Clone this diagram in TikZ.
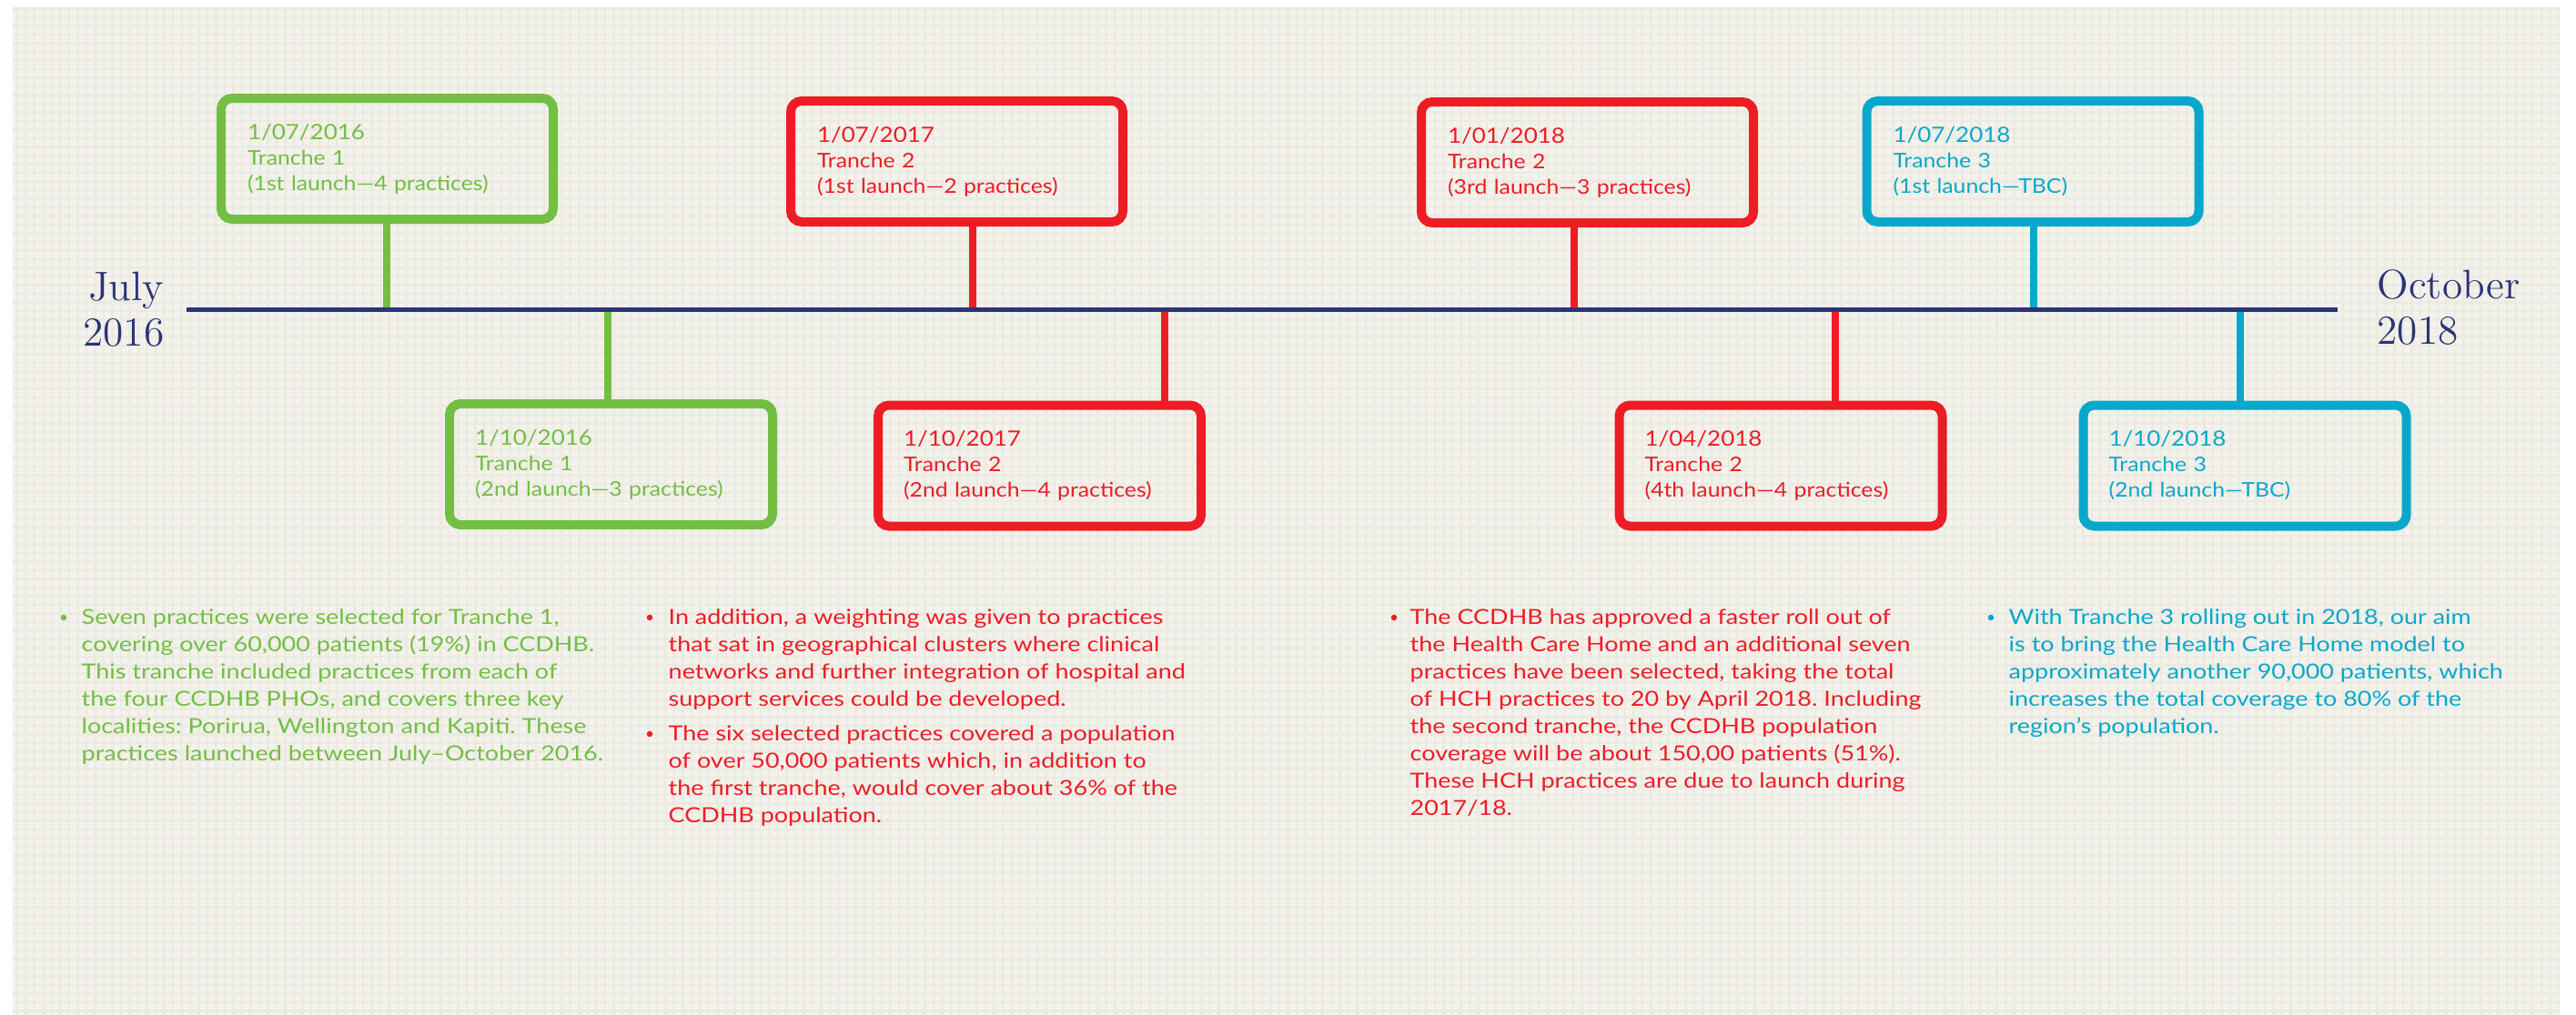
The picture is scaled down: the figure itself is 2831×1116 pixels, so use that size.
\documentclass[tikz,border=0pt]{standalone}
\usepackage{fontspec}
\setsansfont{Lato}[FakeStretch=1.12]
\newfontfamily\notesfont{Lato}[FakeStretch=1.18]
\frenchspacing
\definecolor{trancheone}{HTML}{72BF44}
\definecolor{tranchetwo}{HTML}{EE1C25}
\definecolor{tranchethree}{HTML}{08A8CC}
\definecolor{axisnavy}{HTML}{2A3477}
\definecolor{paper}{HTML}{F3F2EC}
\definecolor{paperline}{HTML}{ECEAE1}
\newcommand\datefont{\fontsize{6.6pt}{7.97pt}\selectfont}
\tikzset{
  launchbox/.style={draw=#1, text=#1, line width=1mm, rounded corners=1.2mm, align=left,
    font=\sffamily\fontsize{6.3pt}{7.97pt}\selectfont},
  topbox/.style={launchbox=#1, minimum width=36.5mm, minimum height=13.3mm, text width=30.7mm, inner xsep=2.9mm},
  lowbox/.style={launchbox=#1, minimum width=35.5mm, minimum height=13.3mm, text width=29.9mm, inner xsep=2.8mm},
  stemline/.style={draw=#1, line width=0.85mm},
  timeline/.style={draw=axisnavy, line width=0.5mm},
  endlabel/.style={text=axisnavy, inner sep=0pt, font=\fontsize{12.9pt}{14.2pt}\selectfont},
  notes/.style={text=#1, align=left, inner sep=0pt, anchor=north west,
    font=\notesfont\fontsize{6.5pt}{8.54pt}\selectfont},
  bulletdot/.style={circle, fill=#1, inner sep=0pt, minimum size=0.65mm}
}
\begin{document}
\begin{tikzpicture}[x=0.1mm,y=-0.1mm]
\useasboundingbox (0,0) rectangle (2831,1116);
\fill[white] (0,0) rectangle (2831,1116);
\fill[paper] (14,8) rectangle (2812,1116);
\draw[paperline, line width=0.27mm, step=0.95mm] (14,1116) grid (2812,8);

% end labels
\node[endlabel, anchor=north east, align=right] (start) at (181,298) {July\\2016};
\node[endlabel, anchor=north west, align=left] (finish) at (2612,296) {October\\2018};

% launch dates on the axis
\coordinate (t1) at (425,340);
\coordinate (t2) at (668,340);
\coordinate (t3) at (1069,340);
\coordinate (t4) at (1280,340);
\coordinate (t5) at (1730,340);
\coordinate (t6) at (2017,340);
\coordinate (t7) at (2235,340);
\coordinate (t8) at (2462,340);

% boxes above the axis
\node[topbox=trancheone] (g1) at (425.5,174.5) {{\datefont 1/07/2016}\\Tranche 1\\(1st launch—4 practices)};
\node[topbox=tranchetwo] (r1) at (1051.5,177.5) {{\datefont 1/07/2017}\\Tranche 2\\(1st launch—2 practices)};
\node[topbox=tranchetwo] (r3) at (1744.5,178.5) {{\datefont 1/01/2018}\\Tranche 2\\(3rd launch—3 practices)};
\node[topbox=tranchethree] (c1) at (2234,177.5) {{\datefont 1/07/2018}\\Tranche 3\\(1st launch—TBC)};

% boxes below the axis
\node[lowbox=trancheone] (g2) at (671.5,510.5) {{\datefont 1/10/2016}\\Tranche 1\\(2nd launch—3 practices)};
\node[lowbox=tranchetwo] (r2) at (1142.5,512) {{\datefont 1/10/2017}\\Tranche 2\\(2nd launch—4 practices)};
\node[lowbox=tranchetwo] (r4) at (1957,512) {{\datefont 1/04/2018}\\Tranche 2\\(4th launch—4 practices)};
\node[lowbox=tranchethree] (c2) at (2467,512) {{\datefont 1/10/2018}\\Tranche 3\\(2nd launch—TBC)};

% stems
\draw[stemline=trancheone] (g1.south -| t1) -- (t1);
\draw[stemline=trancheone] (g2.north -| t2) -- (t2);
\draw[stemline=tranchetwo] (r1.south -| t3) -- (t3);
\draw[stemline=tranchetwo] (r2.north -| t4) -- (t4);
\draw[stemline=tranchetwo] (r3.south -| t5) -- (t5);
\draw[stemline=tranchetwo] (r4.north -| t6) -- (t6);
\draw[stemline=tranchethree] (c1.south -| t7) -- (t7);
\draw[stemline=tranchethree] (c2.north -| t8) -- (t8);

% axis
\coordinate (axisstart) at (205,340);
\coordinate (axisend) at (2569,340);
\draw[timeline] (axisstart) -- (axisend);

% notes
\node[bulletdot=trancheone] (d1) at (70,679) {};
\node[notes=trancheone] (n1) at (89,669) {Seven practices were selected for Tranche 1,\\
covering over 60,000 patients (19\%) in CCDHB.\\
This tranche included practices from each of\\
the four CCDHB PHOs, and covers three key\\
localities: Porirua, Wellington and Kapiti. These\\
practices launched between July–October 2016.};

\node[bulletdot=tranchetwo] (d2) at (714,679) {};
\node[notes=tranchetwo] (n2) at (734,669) {In addition, a weighting was given to practices\\
that sat in geographical clusters where clinical\\
networks and further integration of hospital and\\
support services could be developed.};

\node[bulletdot=tranchetwo] (d3) at (714,807) {};
\node[notes=tranchetwo] (n3) at (734,797) {The six selected practices covered a population\\
of over 50,000 patients which, in addition to\\
the first tranche, would cover about 36\% of the\\
CCDHB population.};

\node[bulletdot=tranchetwo] (d4) at (1532,679) {};
\node[notes=tranchetwo] (n4) at (1549,669) {The CCDHB has approved a faster roll out of\\
the Health Care Home and an additional seven\\
practices have been selected, taking the total\\
of HCH practices to 20 by April 2018. Including\\
the second tranche, the CCDHB population\\
coverage will be about 150,00 patients (51\%).\\
These HCH practices are due to launch during\\
2017/18.};

\node[bulletdot=tranchethree] (d5) at (2188,679) {};
\node[notes=tranchethree] (n5) at (2207,669) {With Tranche 3 rolling out in 2018, our aim\\
is to bring the Health Care Home model to\\
approximately another 90,000 patients, which\\
increases the total coverage to 80\% of the\\
region’s population.};
\end{tikzpicture}
\end{document}
